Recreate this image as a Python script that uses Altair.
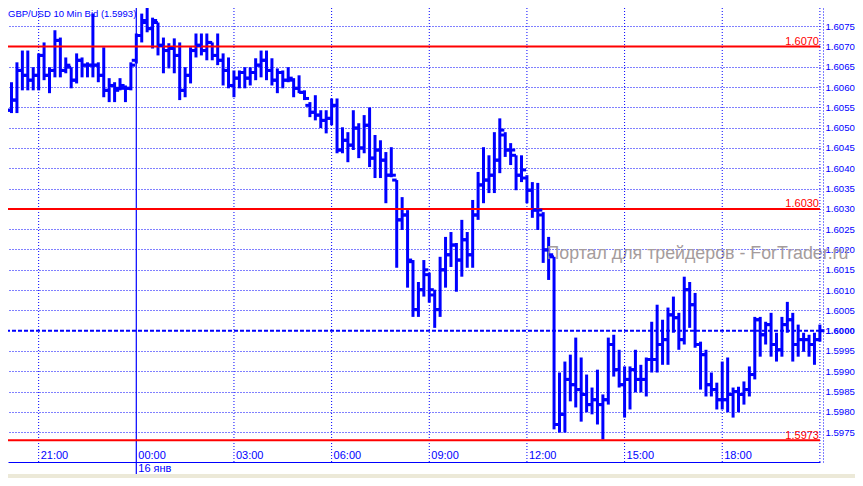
import altair as alt
import pandas as pd

BLUE = "#0000ff"
RED = "#ff0000"
FONT = "Liberation Sans"

# 10-minute GBP/USD bid bars, 15 Jan 19:50 .. 16 Jan 21:00
bar_start = "2012-01-15 19:50"
n_bars = 152

highs = [
    1.60543, 1.60568, 1.60612, 1.60661, 1.60690, 1.60690, 1.60649, 1.60683, 1.60710, 1.60649,
    1.60740, 1.60722, 1.60673, 1.60649, 1.60683, 1.60673, 1.60661, 1.60781, 1.60661, 1.60698,
    1.60622, 1.60612, 1.60622, 1.60604, 1.60661, 1.60732, 1.60781, 1.60801, 1.60771, 1.60759,
    1.60722, 1.60708, 1.60720, 1.60710, 1.60649, 1.60698, 1.60732, 1.60732, 1.60732, 1.60710,
    1.60732, 1.60683, 1.60673, 1.60641, 1.60641, 1.60649, 1.60649, 1.60671, 1.60690, 1.60690,
    1.60671, 1.60646, 1.60641, 1.60649, 1.60622, 1.60629, 1.60592, 1.60563, 1.60580, 1.60543,
    1.60543, 1.60572, 1.60572, 1.60501, 1.60489, 1.60543, 1.60511, 1.60531, 1.60550, 1.60482,
    1.60469, 1.60440, 1.60452, 1.60371, 1.60329, 1.60297, 1.60174, 1.60120, 1.60174, 1.60143,
    1.60101, 1.60182, 1.60231, 1.60243, 1.60216, 1.60273, 1.60243, 1.60322, 1.60391, 1.60452,
    1.60432, 1.60489, 1.60523, 1.60489, 1.60462, 1.60432, 1.60432, 1.60383, 1.60366, 1.60364,
    1.60292, 1.60231, 1.60182, 1.59897, 1.59924, 1.59941, 1.59983, 1.59934, 1.59892, 1.59860,
    1.59904, 1.59843, 1.59983, 1.59990, 1.59953, 1.59912, 1.59912, 1.59953, 1.59916, 1.59934,
    1.60022, 1.60064, 1.60027, 1.60057, 1.60084, 1.60044, 1.60133, 1.60120, 1.60093, 1.59973,
    1.59953, 1.59897, 1.59872, 1.59924, 1.59934, 1.59860, 1.59862, 1.59875, 1.59912, 1.60034,
    1.60034, 1.60022, 1.60044, 1.59995, 1.60034, 1.60071, 1.60044, 1.60015, 1.59995, 1.59990,
    1.59995, 1.60015,
]

lows = [
    1.60432, 1.60506, 1.60536, 1.60536, 1.60592, 1.60592, 1.60592, 1.60592, 1.60617, 1.60585,
    1.60624, 1.60624, 1.60634, 1.60597, 1.60609, 1.60624, 1.60624, 1.60624, 1.60612, 1.60575,
    1.60563, 1.60563, 1.60592, 1.60563, 1.60592, 1.60658, 1.60710, 1.60735, 1.60695, 1.60678,
    1.60634, 1.60646, 1.60634, 1.60568, 1.60575, 1.60609, 1.60673, 1.60678, 1.60666, 1.60666,
    1.60654, 1.60604, 1.60597, 1.60575, 1.60597, 1.60597, 1.60604, 1.60617, 1.60624, 1.60617,
    1.60604, 1.60585, 1.60597, 1.60612, 1.60575, 1.60585, 1.60568, 1.60526, 1.60518, 1.60499,
    1.60486, 1.60506, 1.60437, 1.60437, 1.60415, 1.60445, 1.60425, 1.60437, 1.60403, 1.60376,
    1.60376, 1.60314, 1.60378, 1.60155, 1.60248, 1.60106, 1.60034, 1.60034, 1.60084, 1.60069,
    1.60007, 1.60034, 1.60106, 1.60157, 1.60096, 1.60133, 1.60155, 1.60155, 1.60273, 1.60314,
    1.60339, 1.60339, 1.60388, 1.60428, 1.60408, 1.60346, 1.60366, 1.60314, 1.60278, 1.60248,
    1.60167, 1.60125, 1.59757, 1.59749, 1.59749, 1.59826, 1.59811, 1.59776, 1.59799, 1.59794,
    1.59769, 1.59732, 1.59818, 1.59887, 1.59860, 1.59786, 1.59806, 1.59848, 1.59848, 1.59838,
    1.59897, 1.59897, 1.59916, 1.59916, 1.59995, 1.59953, 1.59966, 1.60007, 1.59958, 1.59855,
    1.59838, 1.59838, 1.59806, 1.59806, 1.59799, 1.59786, 1.59799, 1.59818, 1.59838, 1.59880,
    1.59936, 1.59966, 1.59936, 1.59924, 1.59936, 1.59995, 1.59924, 1.59936, 1.59948, 1.59936,
    1.59916, 1.59973,
]

opens = [
    1.60445, 1.60531, 1.60543, 1.60568, 1.60641, 1.60629, 1.60617, 1.60629, 1.60678, 1.60629,
    1.60641, 1.60715, 1.60641, 1.60649, 1.60617, 1.60666, 1.60654, 1.60654, 1.60654, 1.60629,
    1.60592, 1.60604, 1.60597, 1.60597, 1.60597, 1.60666, 1.60727, 1.60759, 1.60744, 1.60759,
    1.60703, 1.60690, 1.60695, 1.60678, 1.60592, 1.60629, 1.60690, 1.60703, 1.60690, 1.60710,
    1.60678, 1.60666, 1.60641, 1.60604, 1.60622, 1.60636, 1.60622, 1.60636, 1.60654, 1.60666,
    1.60641, 1.60617, 1.60636, 1.60617, 1.60617, 1.60597, 1.60587, 1.60555, 1.60538, 1.60531,
    1.60518, 1.60523, 1.60555, 1.60445, 1.60469, 1.60457, 1.60499, 1.60450, 1.60506, 1.60425,
    1.60445, 1.60420, 1.60383, 1.60371, 1.60273, 1.60285, 1.60170, 1.60052, 1.60101, 1.60138,
    1.60088, 1.60052, 1.60150, 1.60187, 1.60211, 1.60174, 1.60224, 1.60187, 1.60285, 1.60359,
    1.60371, 1.60383, 1.60420, 1.60482, 1.60445, 1.60432, 1.60383, 1.60376, 1.60346, 1.60297,
    1.60285, 1.60199, 1.60182, 1.59769, 1.59794, 1.59880, 1.59867, 1.59855, 1.59843, 1.59818,
    1.59830, 1.59818, 1.59830, 1.59966, 1.59904, 1.59867, 1.59880, 1.59904, 1.59880, 1.59880,
    1.59929, 1.59929, 1.59966, 1.59978, 1.60039, 1.60032, 1.59978, 1.60101, 1.60064, 1.59966,
    1.59941, 1.59867, 1.59855, 1.59830, 1.59830, 1.59843, 1.59850, 1.59843, 1.59855, 1.59892,
    1.60027, 1.59990, 1.60015, 1.59966, 1.59953, 1.60015, 1.60027, 1.59966, 1.59978, 1.59978,
    1.59966, 1.59978,
]

closes = [
    1.60531, 1.60543, 1.60568, 1.60641, 1.60629, 1.60617, 1.60629, 1.60678, 1.60629, 1.60641,
    1.60715, 1.60641, 1.60654, 1.60617, 1.60666, 1.60654, 1.60654, 1.60654, 1.60629, 1.60592,
    1.60604, 1.60592, 1.60604, 1.60597, 1.60654, 1.60727, 1.60764, 1.60744, 1.60764, 1.60703,
    1.60690, 1.60695, 1.60678, 1.60592, 1.60629, 1.60690, 1.60703, 1.60690, 1.60710, 1.60678,
    1.60666, 1.60641, 1.60604, 1.60622, 1.60636, 1.60622, 1.60636, 1.60654, 1.60666, 1.60641,
    1.60617, 1.60636, 1.60617, 1.60622, 1.60597, 1.60587, 1.60572, 1.60538, 1.60531, 1.60518,
    1.60523, 1.60555, 1.60445, 1.60469, 1.60457, 1.60499, 1.60450, 1.60506, 1.60425, 1.60445,
    1.60420, 1.60383, 1.60383, 1.60273, 1.60285, 1.60174, 1.60052, 1.60101, 1.60150, 1.60101,
    1.60052, 1.60150, 1.60187, 1.60211, 1.60174, 1.60224, 1.60187, 1.60285, 1.60359, 1.60371,
    1.60383, 1.60420, 1.60494, 1.60445, 1.60445, 1.60383, 1.60396, 1.60346, 1.60297, 1.60297,
    1.60199, 1.60187, 1.59769, 1.59794, 1.59880, 1.59867, 1.59855, 1.59843, 1.59818, 1.59830,
    1.59818, 1.59830, 1.59966, 1.59904, 1.59867, 1.59880, 1.59904, 1.59880, 1.59880, 1.59929,
    1.59929, 1.59966, 1.59978, 1.60039, 1.60032, 1.59978, 1.60101, 1.60064, 1.59966, 1.59941,
    1.59867, 1.59855, 1.59830, 1.59830, 1.59843, 1.59850, 1.59843, 1.59855, 1.59892, 1.60027,
    1.59990, 1.60015, 1.59966, 1.59953, 1.60015, 1.60027, 1.59966, 1.59978, 1.59978, 1.59966,
    1.59978, 1.60000,
]

# horizontal levels drawn in red
levels = [1.6070, 1.6030, 1.5973]
level_labels = ["1.6070", "1.6030", "1.5973"]

# right-hand price axis
price_ticks = [1.5975, 1.598, 1.5985, 1.599, 1.5995, 1.6, 1.6005, 1.601, 1.6015, 1.602,
               1.6025, 1.603, 1.6035, 1.604, 1.6045, 1.605, 1.6055, 1.606, 1.6065, 1.607, 1.6075]
current_price = 1.6000

# time grid
grid_times = ["2012-01-15 21:00", "2012-01-16 03:00", "2012-01-16 06:00", "2012-01-16 09:00",
              "2012-01-16 12:00", "2012-01-16 15:00", "2012-01-16 18:00", "2012-01-16 21:00"]
label_times = ["2012-01-15 21:00", "2012-01-16 00:00", "2012-01-16 03:00", "2012-01-16 06:00",
               "2012-01-16 09:00", "2012-01-16 12:00", "2012-01-16 15:00", "2012-01-16 18:00"]
time_labels = ["21:00", "00:00", "03:00", "06:00", "09:00", "12:00", "15:00", "18:00"]
day_time = "2012-01-16 00:00"
day_label = "16 янв"

title_text = "GBP/USD 10 Min Bid (1.5993)"
watermark = "Портал для трейдеров - ForTrader.ru"

df = pd.DataFrame({
    "t": pd.date_range(bar_start, periods=n_bars, freq="10min"),
    "open": opens, "high": highs, "low": lows, "close": closes,
})
lev_df = pd.DataFrame({"p": levels, "label": level_labels})
grid_df = pd.DataFrame({"t": pd.to_datetime(grid_times)})
lab_df = pd.DataFrame({"t": pd.to_datetime(label_times), "label": time_labels})
day_df = pd.DataFrame({"t": pd.to_datetime([day_time]), "label": [day_label]})
cur_df = pd.DataFrame({"p": [current_price]})

W, H = 812, 454

xscale = alt.Scale(domain=[
    alt.DateTime(year=2012, month=1, date=15, hours=20, minutes=3, seconds=31),
    alt.DateTime(year=2012, month=1, date=16, hours=21, minutes=0, seconds=12),
])
yscale = alt.Scale(domain=[1.596766, 1.607948], nice=False, zero=False)

is_cur = "abs(datum.value - 1.6) < 1e-7"
xaxis = alt.Axis(labels=False, ticks=False, grid=False, title=None,
                 domainColor=BLUE, domainWidth=1.2)
yaxis = alt.Axis(
    orient="right", values=price_ticks, format=".4f", title=None,
    grid=True, gridColor=BLUE, gridDash=[1, 2], gridWidth=1,
    gridOpacity={"condition": {"test": is_cur, "value": 0}, "value": 1},
    domainColor=BLUE, domainDash=[1, 2], domainWidth=1, offset=3,
    ticks=False, tickSize=0, labelPadding=2,
    labelColor=BLUE, labelFont=FONT, labelFontSize=9.6, labelAlign="left", labelBaseline="middle",
    labelFontWeight={"condition": {"test": is_cur, "value": "bold"}, "value": "normal"},
)

X = alt.X("t:T", scale=xscale, axis=xaxis)


def Y(field):
    return alt.Y(field, scale=yscale, axis=yaxis)


wm = alt.Chart(pd.DataFrame({"label": [watermark]})).mark_text(
    font=FONT, fontSize=17.8, color="#a59c9c", align="left", baseline="alphabetic"
).encode(x=alt.value(538.5), y=alt.value(251), text="label:N")

vgrid = alt.Chart(grid_df).mark_rule(color=BLUE, strokeDash=[1, 2], strokeWidth=1).encode(x=X)

dayline = alt.Chart(day_df).mark_rule(color=BLUE, strokeWidth=1.2).encode(
    x=X, y=alt.value(0), y2=alt.value(466))

curline = alt.Chart(cur_df).mark_rule(color=BLUE, strokeDash=[4, 2], strokeWidth=2).encode(
    y=Y("p:Q"))

redlines = alt.Chart(lev_df).mark_rule(color=RED, strokeWidth=2).encode(y=Y("p:Q"))

redtext = alt.Chart(lev_df).mark_text(
    font=FONT, fontSize=11, color=RED, align="right", baseline="alphabetic", dy=-1.5
).encode(x=alt.value(811), y=Y("p:Q"), text="label:N")

hl = alt.Chart(df).mark_rule(color=BLUE, strokeWidth=3).encode(
    x=X, y=Y("high:Q"), y2="low:Q",
)
otick = alt.Chart(df).mark_tick(
    orient="horizontal", size=4.5, thickness=3, xOffset=-2.3, color=BLUE, opacity=1
).encode(x=X, y=Y("open:Q"))
ctick = alt.Chart(df).mark_tick(
    orient="horizontal", size=4.5, thickness=3, xOffset=2.3, color=BLUE, opacity=1
).encode(x=X, y=Y("close:Q"))

tlabels = alt.Chart(lab_df).mark_text(
    font=FONT, fontSize=11, color=BLUE, align="left", baseline="middle", dx=2
).encode(x=X, y=alt.value(447.5), text="label:N")

daytext = alt.Chart(day_df).mark_text(
    font=FONT, fontSize=11, color=BLUE, align="left", baseline="middle", dx=2
).encode(x=X, y=alt.value(460.5), text="label:N")

title = alt.Chart(pd.DataFrame({"label": [title_text]})).mark_text(
    font=FONT, fontSize=9.5, color=BLUE, align="left", baseline="top"
).encode(x=alt.value(0), y=alt.value(0.5), text="label:N")

strip = alt.Chart(pd.DataFrame({"a": [0]})).mark_rect(color="#ece9d8").encode(
    x=alt.value(-10), x2=alt.value(850), y=alt.value(466), y2=alt.value(472))

chart = alt.layer(
    hl, wm, vgrid, dayline, curline, redlines, otick, ctick, redtext, tlabels, daytext, title, strip
).properties(
    width=W, height=H, autosize="none",
    padding={"left": 0, "top": 0, "right": 35, "bottom": 16},
    background="white",
).configure_view(strokeWidth=0)

chart.save("out.html", embed_options={"renderer": "svg", "actions": False})
